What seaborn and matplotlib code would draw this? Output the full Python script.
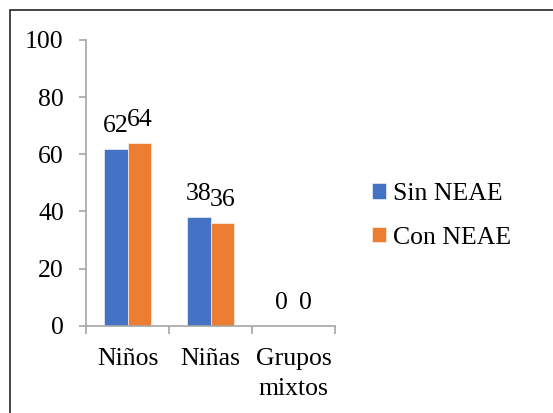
import matplotlib
matplotlib.use("Agg")
import matplotlib.pyplot as plt
from matplotlib.patches import Rectangle
import seaborn as sns
import pandas as pd

categories = ["Niños", "Niñas", "Grupos\nmixtos"]
series_names = ["Sin NEAE", "Con NEAE"]
sin_neae = [62, 38, 0]
con_neae = [64, 36, 0]
y_ticks = [0, 20, 40, 60, 80, 100]

df = pd.DataFrame({
    "grupo": categories * 2,
    "serie": [series_names[0]] * 3 + [series_names[1]] * 3,
    "valor": sin_neae + con_neae,
})

sns.set_theme(style="white")
plt.rcParams["font.family"] = ["Liberation Serif", "DejaVu Serif"]

W, H = 553, 413
fig = plt.figure(figsize=(W / 100, H / 100), dpi=100)
ax = fig.add_axes([86 / W, 1 - 325.7 / H, (335 - 86) / W, (325.7 - 40) / H])

palette = {"Sin NEAE": "#4472C4", "Con NEAE": "#ED7D31"}
sns.barplot(data=df, x="grupo", y="valor", hue="serie", palette=palette,
            width=0.57, gap=0, saturation=1, ax=ax, legend=True,
            edgecolor="white", linewidth=0.4)

# value labels above the bars
for cont in ax.containers:
    ax.bar_label(cont, labels=[f"{v:g}" for v in cont.datavalues],
                 padding=8.5, fontsize=18.5, color="black")

ax.set_ylim(0, 100)
ax.set_xlim(-0.5, 2.5)
ax.set_yticks(y_ticks)
ax.set_yticklabels([str(t) for t in y_ticks])
ax.set_xlabel("")
ax.set_ylabel("")

axis_col = "#A6A6A6"
for side in ["top", "right"]:
    ax.spines[side].set_visible(False)
for side in ["left", "bottom"]:
    ax.spines[side].set_visible(True)
    ax.spines[side].set_color(axis_col)
    ax.spines[side].set_linewidth(1.2)

ax.tick_params(axis="y", which="major", left=True, length=5, width=1.2,
               color=axis_col, pad=11, labelsize=18.5, labelcolor="black")
ax.tick_params(axis="x", which="major", bottom=False, length=0, pad=16,
               labelsize=18.5, labelcolor="black")
for lbl in ax.get_xticklabels():
    lbl.set_linespacing(1.45)
ax.set_xticks([-0.5, 0.5, 1.5, 2.5], minor=True)
ax.tick_params(axis="x", which="minor", bottom=True, length=5.5, width=1.2,
               color=axis_col, direction="out")

leg = ax.legend(loc="upper left", bbox_to_anchor=(372 / W, 1 - 183 / H),
                bbox_transform=fig.transFigure, frameon=False,
                fontsize=18.5, handlelength=0.55, handleheight=0.55,
                handletextpad=0.25, labelspacing=0.85, borderpad=0,
                borderaxespad=0)
for t in leg.get_texts():
    t.set_color("black")

# outer frame of the chart area
fig.patches.append(Rectangle((10 / W, -0.1), 1.2, 1 - 10 / H + 0.1,
                             transform=fig.transFigure, fill=False,
                             edgecolor="#262626", linewidth=1.2))

fig.savefig("out.png", dpi=100)
